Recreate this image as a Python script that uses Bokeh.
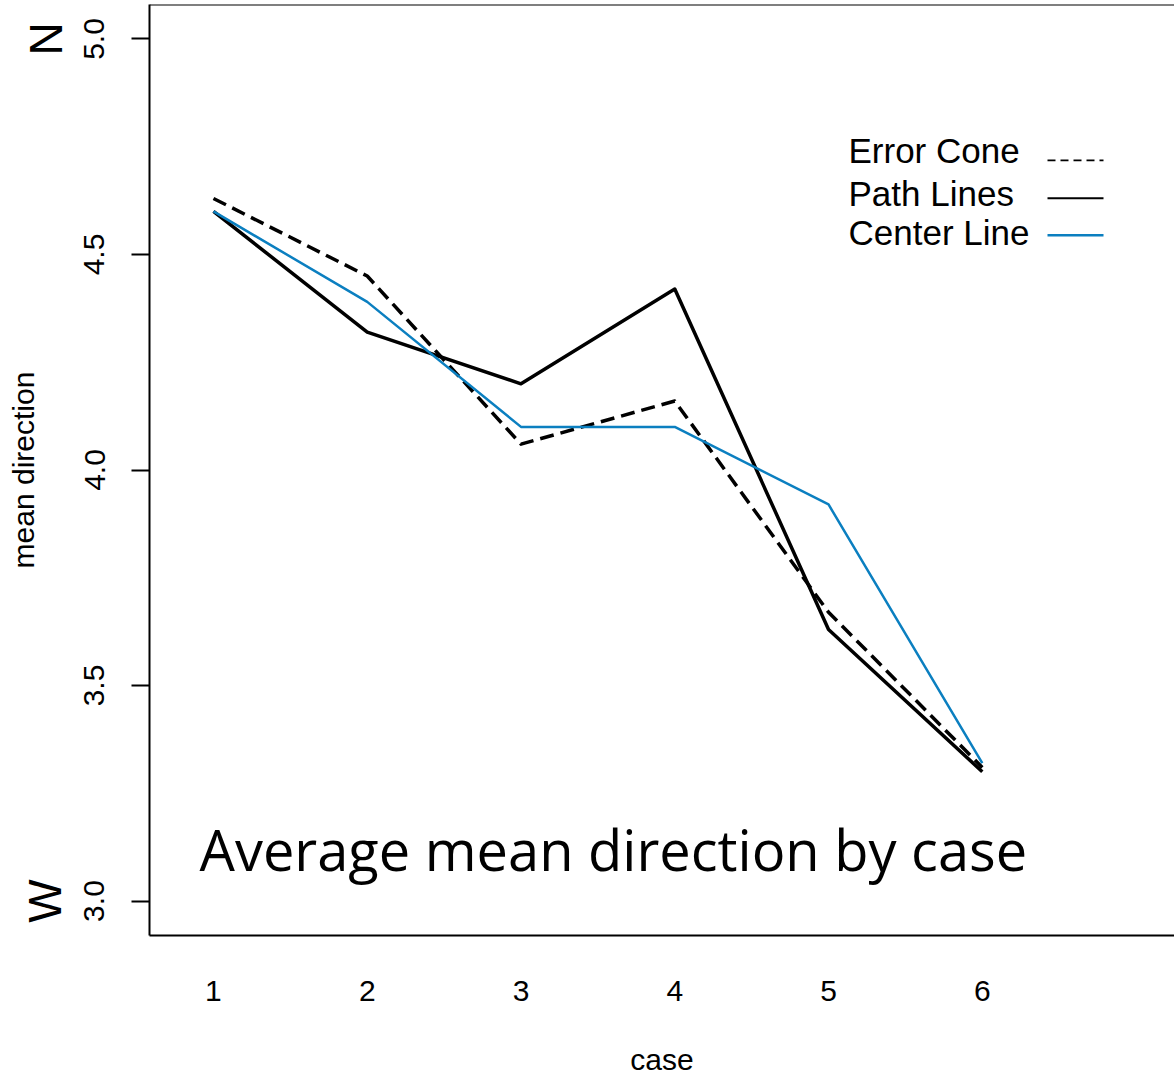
import math
from bokeh.plotting import figure
from bokeh.models import Range1d, FixedTicker, Label, Span, LinearAxis
from bokeh.embed import file_html
from bokeh.resources import INLINE

# ---- data ----
cases = [1, 2, 3, 4, 5, 6]
error_cone = [4.63, 4.45, 4.06, 4.16, 3.67, 3.31]
path_lines = [4.60, 4.32, 4.20, 4.42, 3.63, 3.30]
center_line = [4.60, 4.39, 4.10, 4.10, 3.92, 3.32]

x_ticks = [1, 2, 3, 4, 5, 6]
x_tick_labels = ["1", "2", "3", "4", "5", "6"]
y_ticks = [3.0, 3.5, 4.0, 4.5, 5.0]
y_tick_labels = ["3.0", "3.5", "4.0", "4.5", "5.0"]
compass_ticks = [3.0, 5.0]
compass_labels = ["W", "N"]
series_names = ["Error Cone", "Path Lines", "Center Line"]
title_text = "Average mean direction by case"

FONT = "Liberation Sans"
BLUE = "#0b7fc0"

W, H = 1174, 1078
BL, BR, BT, BB = 149, 0, 4, 142
X0, X1 = 0.584, 7.25
Y0, Y1 = 2.92, 5.08

p = figure(width=W, height=H,
           x_range=Range1d(X0, X1), y_range=Range1d(Y0, Y1),
           output_backend="svg", toolbar_location=None,
           min_border_left=BL, min_border_right=BR,
           min_border_top=BT, min_border_bottom=BB)
p.grid.visible = False
p.outline_line_color = None
p.background_fill_color = "white"
p.border_fill_color = "white"

# y axis (numeric ticks)
ya = p.yaxis[0]
ya.ticker = FixedTicker(ticks=y_ticks)
ya.major_label_overrides = {t: l for t, l in zip(y_ticks, y_tick_labels)}
ya.major_tick_out = 18
ya.major_tick_in = 0
ya.major_tick_line_width = 2
ya.major_tick_line_color = "black"
ya.minor_tick_line_color = None
ya.axis_line_color = "black"
ya.axis_line_width = 2
ya.major_label_orientation = "vertical"
ya.major_label_standoff = 27
ya.major_label_text_font = FONT
ya.major_label_text_font_size = "30px"
ya.major_label_text_color = "black"

# outer y axis: compass letters + axis title
ya2 = LinearAxis(ticker=FixedTicker(ticks=compass_ticks),
                 major_label_overrides={t: l for t, l in zip(compass_ticks, compass_labels)},
                 major_tick_out=0, major_tick_in=0,
                 major_tick_line_color=None, minor_tick_line_color=None,
                 axis_line_color=None,
                 major_label_orientation="vertical",
                 major_label_standoff=10,
                 major_label_text_font=FONT,
                 major_label_text_font_size="46px",
                 major_label_text_color="black",
                 axis_label="mean direction",
                 axis_label_text_font=FONT,
                 axis_label_text_font_size="30px",
                 axis_label_text_font_style="normal",
                 axis_label_text_color="black",
                 axis_label_standoff=-23)
p.add_layout(ya2, "left")

# x axis
xa = p.xaxis[0]
xa.ticker = FixedTicker(ticks=x_ticks)
xa.major_label_overrides = {t: l for t, l in zip(x_ticks, x_tick_labels)}
xa.major_tick_out = 0
xa.major_tick_in = 0
xa.minor_tick_line_color = None
xa.axis_line_color = "black"
xa.axis_line_width = 2
xa.major_label_standoff = 45
xa.major_label_text_font = FONT
xa.major_label_text_font_size = "30px"
xa.major_label_text_color = "black"
xa.axis_label = "case"
xa.axis_label_text_font = FONT
xa.axis_label_text_font_size = "30px"
xa.axis_label_text_font_style = "normal"
xa.axis_label_text_color = "black"
xa.axis_label_standoff = 39

# top border
p.add_layout(Span(location=p.y_range.end, dimension="width",
                  line_color="black", line_width=2))

# data lines
p.line(cases, error_cone, line_color="black", line_width=3.5,
       line_dash="14 7", line_join="round")
p.line(cases, path_lines, line_color="black", line_width=3.5, line_join="round")
p.line(cases, center_line, line_color=BLUE, line_width=2.5, line_join="round")

# ---- key (text on the left, line sample on the right) ----
fw, fh = W - BL - BR, H - BT - BB
def px_x(px):
    return X0 + (px - BL) * (X1 - X0) / fw
def px_y(py):
    return Y1 - (py - BT) * (Y1 - Y0) / fh

key_text_left = 848
key_rows = [151, 194, 233]
key_line_rows = [160, 198, 235]
key_line_x = (1047, 1103)
key_styles = [dict(line_color="black", line_width=1.6, line_dash="8 5"),
              dict(line_color="black", line_width=2),
              dict(line_color=BLUE, line_width=2.5)]
for name, ty, ly, st in zip(series_names, key_rows, key_line_rows, key_styles):
    p.add_layout(Label(x=key_text_left - BL, x_units="screen",
                       y=H - BB - ty, y_units="screen",
                       text=name, text_align="left", text_baseline="middle",
                       text_font=FONT, text_font_size="35px",
                       text_color="black"))
    p.segment(x0=[px_x(key_line_x[0])], y0=[px_y(ly)],
              x1=[px_x(key_line_x[1])], y1=[px_y(ly)], **st)

# big title inside plot
p.add_layout(Label(x=50, x_units="screen", y=87, y_units="screen",
                   text=title_text, text_align="left",
                   text_baseline="alphabetic", text_font="Open Sans",
                   text_font_size="56px", text_color="black"))

open("out.html", "w").write(file_html(p, INLINE))
